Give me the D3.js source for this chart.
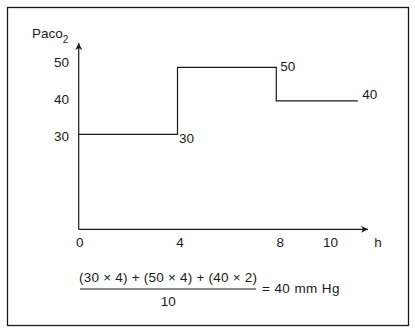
<!DOCTYPE html>
<html><head><meta charset="utf-8">
<script src="https://cdn.jsdelivr.net/npm/d3@7"></script>
<style>
html,body{margin:0;padding:0;background:#fff;}
text{font-family:"Liberation Sans",Arial,Helvetica,sans-serif;fill:#1a1a1a;}
</style></head>
<body><svg id="c" width="415" height="329"></svg>
<script>
// Data
const stepTimes = [0, 4, 8, 11.3];        // hours (segment boundaries)
const stepValues = [30, 50, 40];          // PaCO2 per segment
const xTickLabels = [0, 4, 8, 10];
const yTickLabels = [30, 40, 50];
const pointLabels = [{t: 4, v: 30, text: "30"}, {t: 8, v: 50, text: "50"}, {t: 11.3, v: 40, text: "40"}];
const numeratorText = "(30 \u00d7 4) + (50 \u00d7 4) + (40 \u00d7 2)";
const denominatorText = "10";
const resultText = "= 40 mm Hg";

const svg = d3.select("#c");
const ink = "#1a1a1a";
const fs = 13.5;

// frame
svg.append("rect").attr("x", 7.5).attr("y", 7.5).attr("width", 401).attr("height", 318)
  .attr("fill", "none").attr("stroke", ink).attr("stroke-width", 1.3);

// scales
const x = d3.scaleLinear().domain([0, 8]).range([78.7, 276.3]);
const y = d3.scaleLinear().domain([30, 50]).range([134.3, 67.3]);
const xAxisScale = d3.scaleLinear().domain([0, 10]).range([79.3, 330]);
const yAxisScale = d3.scaleLinear().domain([30, 50]).range([136.3, 62]);

const x0 = 78.7, yBase = 229.3, yTop = 43, xRight = 368;

// arrowhead marker
const defs = svg.append("defs");
defs.append("marker").attr("id", "arr").attr("viewBox", "0 0 10 10")
  .attr("refX", 10).attr("refY", 5).attr("markerWidth", 10).attr("markerHeight", 7)
  .attr("markerUnits", "userSpaceOnUse").attr("orient", "auto")
  .append("path").attr("d", "M0,0 L10,5 L0,10 L3,5 Z").attr("fill", ink);

// axes lines
svg.append("line").attr("x1", x0).attr("y1", yBase).attr("x2", x0).attr("y2", yTop)
  .attr("stroke", ink).attr("stroke-width", 1.2).attr("marker-end", "url(#arr)");
svg.append("line").attr("x1", x0).attr("y1", yBase).attr("x2", xRight).attr("y2", yBase)
  .attr("stroke", ink).attr("stroke-width", 1.2).attr("marker-end", "url(#arr)");

// tick label axes
const gx = svg.append("g").attr("transform", `translate(0,${yBase})`)
  .call(d3.axisBottom(xAxisScale).tickValues(xTickLabels).tickSize(0).tickPadding(8.5).tickFormat(d3.format("d")));
gx.select(".domain").remove();
gx.selectAll("text").attr("font-size", fs).attr("fill", ink).attr("font-family", "Liberation Sans, Arial, sans-serif");

const gy = svg.append("g").attr("transform", `translate(69,0)`)
  .call(d3.axisLeft(yAxisScale).tickValues(yTickLabels).tickSize(0).tickPadding(0).tickFormat(d3.format("d")));
gy.select(".domain").remove();
gy.selectAll("text").attr("font-size", fs).attr("fill", ink).attr("font-family", "Liberation Sans, Arial, sans-serif");

// axis titles
const yt = svg.append("text").attr("x", 32).attr("y", 38.3).attr("font-size", fs);
yt.append("tspan").text("Paco");
yt.append("tspan").attr("font-size", 10).attr("dy", 4.5).text("2");
svg.append("text").attr("x", 378).attr("y", 246.7).attr("font-size", fs).attr("text-anchor", "middle").text("h");

// step line
const pts = [];
stepValues.forEach((v, i) => { pts.push([stepTimes[i], v]); pts.push([stepTimes[i + 1], v]); });
svg.append("path").datum(pts)
  .attr("d", d3.line().x(d => x(d[0])).y(d => y(d[1])))
  .attr("fill", "none").attr("stroke", ink).attr("stroke-width", 1.2);

// point labels
svg.selectAll("text.pl").data(pointLabels).enter().append("text").attr("class", "pl")
  .attr("x", (d, i) => x(d.t) + [1.5, 4, 4.5][i]).attr("y", (d, i) => y(d.v) + [8.4, 3.4, -2.3][i])
  .attr("font-size", fs).text(d => d.text);

// formula
svg.append("text").attr("x", 168).attr("y", 282).attr("font-size", fs).attr("text-anchor", "middle")
  .attr("textLength", 178).attr("lengthAdjust", "spacing").text(numeratorText);
svg.append("line").attr("x1", 80).attr("x2", 256).attr("y1", 289).attr("y2", 289)
  .attr("stroke", ink).attr("stroke-width", 1.2);
svg.append("text").attr("x", 168.3).attr("y", 305.7).attr("font-size", fs).attr("text-anchor", "middle").text(denominatorText);
svg.append("text").attr("x", 262).attr("y", 293.3).attr("font-size", fs)
  .attr("textLength", 77.5).attr("lengthAdjust", "spacing").text(resultText);
</script></body></html>
